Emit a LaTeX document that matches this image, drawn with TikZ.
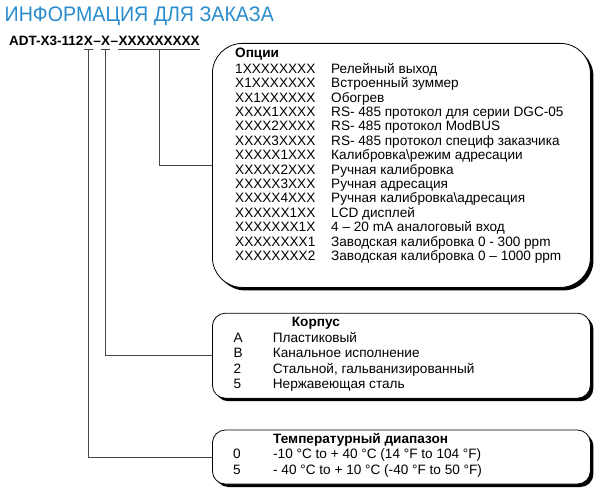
\documentclass[tikz,border=0pt]{standalone}
\usepackage{fontspec}
\setmainfont{Liberation Sans}
\newfontfamily\titlefont[FakeStretch=0.935]{Liberation Sans}
\usepackage{xcolor}
\usetikzlibrary{positioning,shadows}
\definecolor{titleblue}{RGB}{40,140,205}
\definecolor{wiregray}{RGB}{70,70,70}

\tikzset{
  infobox/.style={draw=black, line width=0.8pt, fill=white, rounded corners=#1,
    minimum width=378pt, inner sep=0pt,
    drop shadow={shadow xshift=3pt, shadow yshift=-3pt, opacity=1, fill=black}},
  code/.style={font=\fontsize{13.5}{16}\selectfont\bfseries, inner sep=0pt, anchor=base west},
  listing/.style={inner sep=0pt, anchor=base west},
  wire/.style={draw=wiregray, line width=0.8pt}
}

\begin{document}
\begin{tikzpicture}[x=1pt,y=1pt]
\useasboundingbox (0,0) rectangle (600,-495);

\node[anchor=base west, inner sep=0pt, text=titleblue,
  font=\titlefont\fontsize{21}{24}\selectfont] (title) at (4.5,-21.7) {ИНФОРМАЦИЯ ДЛЯ ЗАКАЗА};

% order code
\node[code] (pre) at (9,-45.7) {ADT-X3-112};
\node[code] (xt) at (pre.base east) {X};
\node[code] (d1) at (xt.base east) {–};
\node[code] (xk) at (d1.base east) {X};
\node[code] (d2) at (xk.base east) {–};
\node[code] (xo) at (d2.base east) {XXXXXXXXX};

\draw[wire] ([yshift=-3.3pt]xt.south west) -- ([yshift=-3.3pt]xt.south east);
\draw[wire] ([yshift=-3.3pt]xk.south west) -- ([yshift=-3.3pt]xk.south east);
\draw[wire] ([yshift=-3.3pt]xo.south west) -- ([yshift=-3.3pt]xo.south east);

% boxes
\node[infobox=30pt, minimum height=244pt, anchor=north west] (opt) at (212,-43) {};
\node[infobox=13pt, minimum height=85pt, below=25pt of opt] (korp) {};
\node[infobox=13pt, minimum height=54pt, below=31pt of korp] (temp) {};

\node[listing, font=\fontsize{13.6}{14.4}\selectfont] (opttext)
  at ([xshift=23pt,yshift=-14.3pt]opt.north west) {%
\begin{tabular}[t]{@{}p{96pt}@{}l@{}}
\multicolumn{2}{@{}l@{}}{\bfseries Опции}\\[1.6pt]
1XXXXXXXX & Релейный выход\\
X1XXXXXXX & Встроенный зуммер\\
XX1XXXXXX & Обогрев\\
XXXX1XXXX & RS- 485 протокол для серии DGC-05\\
XXXX2XXXX & RS- 485 протокол ModBUS\\
XXXX3XXXX & RS- 485 протокол специф заказчика\\
XXXXX1XXX & Калибровка\textbackslash режим адресации\\
XXXXX2XXX & Ручная калибровка\\
XXXXX3XXX & Ручная адресация\\
XXXXX4XXX & Ручная калибровка\textbackslash адресация\\
XXXXXX1XX & LCD дисплей\\
XXXXXXX1X & 4 – 20 mA аналоговый вход\\
XXXXXXXX1 & Заводская калибровка 0 - 300 ppm\\
XXXXXXXX2 & Заводская калибровка 0 – 1000 ppm
\end{tabular}};

\node[listing, font=\fontsize{13.6}{15.5}\selectfont] (korptext)
  at ([xshift=21.3pt,yshift=-14pt]korp.north west) {%
\begin{tabular}[t]{@{}p{39.4pt}@{}l@{}}
\multicolumn{2}{@{}l@{}}{\hspace{58.4pt}\bfseries Корпус}\\
A & Пластиковый\\
B & Канальное исполнение\\
2 & Стальной, гальванизированный\\
5 & Нержавеющая сталь
\end{tabular}};

\node[listing, font=\fontsize{13.6}{15.5}\selectfont] (temptext)
  at ([xshift=21pt,yshift=-13.7pt]temp.north west) {%
\begin{tabular}[t]{@{}p{40pt}@{}l@{}}
\multicolumn{2}{@{}l@{}}{\hspace{40pt}\bfseries Температурный диапазон}\\
0 & -10 °C to + 40 °C (14 °F to 104 °F)\\
5 & - 40 °C to + 10 °C (-40 °F to 50 °F)
\end{tabular}};

% connectors
\draw[wire] ([yshift=-3.3pt]xo.south) |- (opt.west);
\draw[wire] ([yshift=-3.3pt]xk.south) |- (korp.west);
\draw[wire] ([yshift=-3.3pt]xt.south) |- (temp.west);
\end{tikzpicture}
\end{document}
